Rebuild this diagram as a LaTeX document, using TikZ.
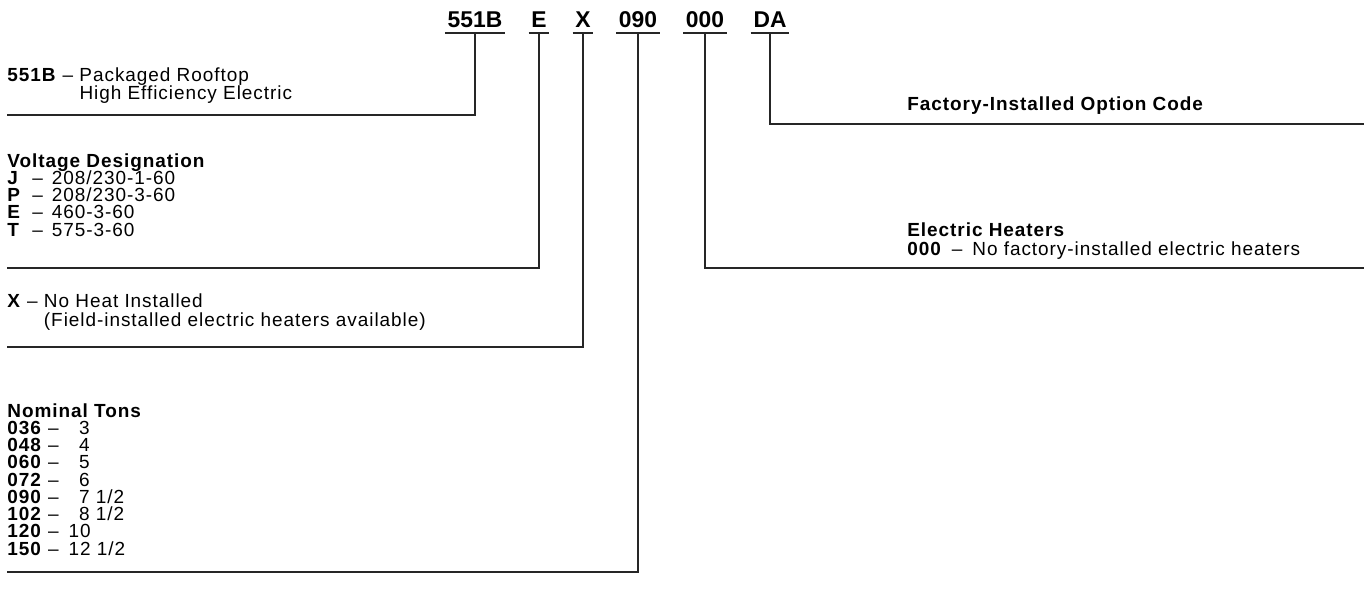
\documentclass[tikz,border=0pt]{standalone}
\usepackage{fontspec}
\setmainfont{Liberation Sans}
\newfontfamily\descfont{Liberation Sans}[Ligatures=TeX, LetterSpace=5.0]
\newcommand\desctext{\descfont\fontsize{10.8}{9.8}\selectfont\lineskiplimit=-20pt\relax}

\begin{document}
\begin{tikzpicture}[
            x=0.02cm, y=-0.02cm,
            code/.style={font=\fontsize{13}{15}\selectfont\bfseries, inner sep=0pt, anchor=base},
            desc/.style={font=\desctext, anchor=base west, align=left, inner sep=0pt},
            rule/.style={line width=1.4pt, color=black!85}
        ]
            \useasboundingbox (0,0) rectangle (1364,602);
            % model number
            \node[code] (c551b) at (475, 27) {551B};
            \node[code] (cE)    at (539, 27) {E};
            \node[code] (cX)    at (583, 27) {X};
            \node[code] (c090)  at (638, 27) {090};
            \node[code] (c000)  at (705, 27) {000};
            \node[code] (cDA)   at (770, 27) {DA};
            \foreach \n in {c551b, cE, cX, c090, c000, cDA}
                \draw[rule] ([shift={(-0.05cm,-0.12cm)}]\n.base west) -- ([shift={(0.05cm,-0.12cm)}]\n.base east);

            % descriptions (base = last line)
            \node[desc] (d551b) at (7, 99) {\textbf{551B} \textendash{} Packaged Rooftop\\[0.4pt]\phantom{\textbf{551B} \textendash{} }High Efficiency Electric};
            \node[desc] (dvolt) at (7, 236) {\textbf{Voltage Designation}\\
                \makebox[0.5cm][l]{\textbf{J}}\textendash\hspace{0.18cm}208/230-1-60\\
                \makebox[0.5cm][l]{\textbf{P}}\textendash\hspace{0.18cm}208/230-3-60\\
                \makebox[0.5cm][l]{\textbf{E}}\textendash\hspace{0.18cm}460-3-60\\
                \makebox[0.5cm][l]{\textbf{T}}\textendash\hspace{0.18cm}575-3-60};
            \node[desc] (dheat) at (7, 326) {\textbf{X} \textendash{} No Heat Installed\\[0.6pt]\phantom{\textbf{X} \textendash{} }(Field-installed electric heaters available)};
            \node[desc] (dtons) at (7, 555) {\textbf{Nominal Tons}\\
                \textbf{036} \textendash\hspace{0.2cm}\phantom{1}3\\
                \textbf{048} \textendash\hspace{0.2cm}\phantom{1}4\\
                \textbf{060} \textendash\hspace{0.2cm}\phantom{1}5\\
                \textbf{072} \textendash\hspace{0.2cm}\phantom{1}6\\
                \textbf{090} \textendash\hspace{0.2cm}\phantom{1}7 1/2\\
                \textbf{102} \textendash\hspace{0.2cm}\phantom{1}8 1/2\\
                \textbf{120} \textendash\hspace{0.2cm}10\\
                \textbf{150} \textendash\hspace{0.2cm}12 1/2};
            \node[desc] (dopt) at (907, 110) {\textbf{Factory-Installed Option Code}};
            \node[desc] (delec) at (907, 255) {\textbf{Electric Heaters}\\[0.6pt]
                \textbf{000}\hspace{0.2cm}\textendash\hspace{0.2cm}No factory-installed electric heaters};

            % connector ends
            \coordinate (e551b) at (7, 115);
            \coordinate (eE)    at (7, 268);
            \coordinate (eX)    at (7, 347);
            \coordinate (e090)  at (7, 572);
            \coordinate (e000)  at (1364, 268);
            \coordinate (eDA)   at (1364, 124);

            \draw[rule] ([yshift=-0.12cm]c551b.base) |- (e551b);
            \draw[rule] ([yshift=-0.12cm]cE.base) |- (eE);
            \draw[rule] ([yshift=-0.12cm]cX.base) |- (eX);
            \draw[rule] ([yshift=-0.12cm]c090.base) |- (e090);
            \draw[rule] ([yshift=-0.12cm]c000.base) |- (e000);
            \draw[rule] ([yshift=-0.12cm]cDA.base) |- (eDA);
        \end{tikzpicture}
\end{document}
